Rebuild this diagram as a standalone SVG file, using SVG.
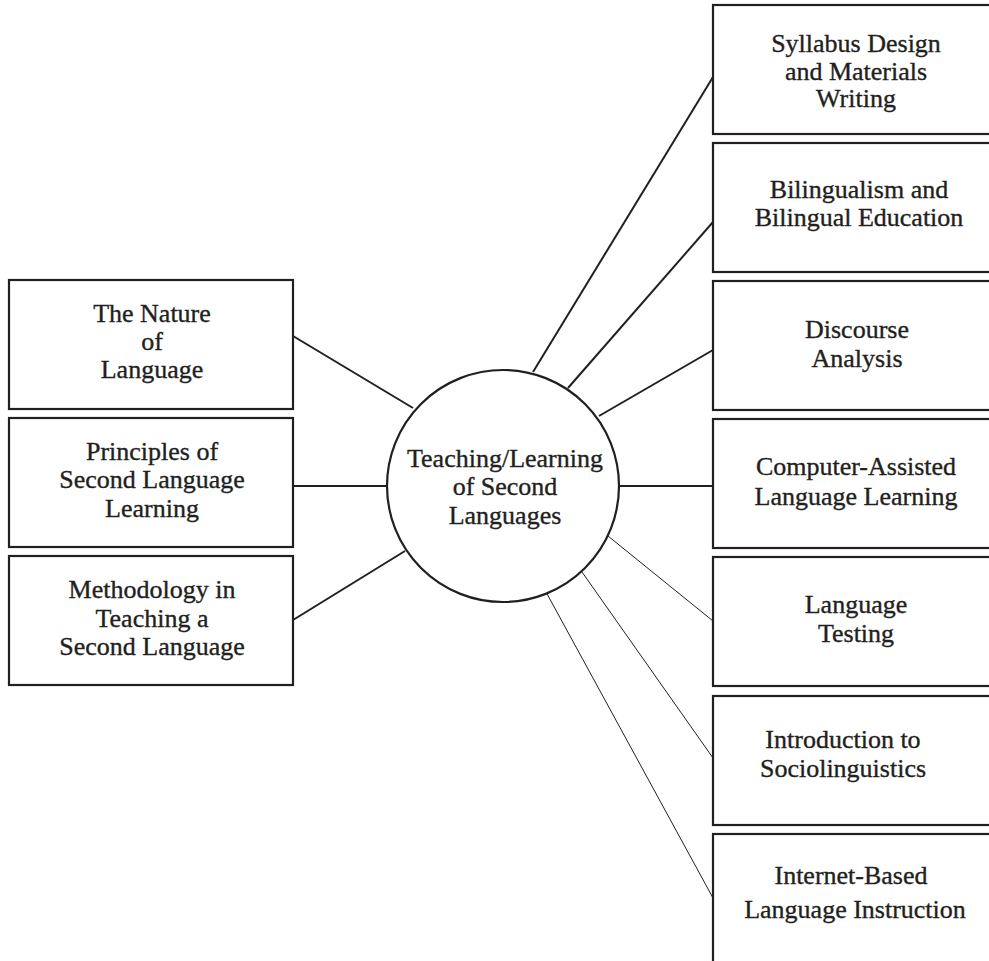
<svg xmlns="http://www.w3.org/2000/svg" width="989" height="961" viewBox="0 0 989 961">
<style>
.box{fill:#fff;stroke:#231f20;stroke-width:2.2}
.c{fill:#fff;stroke:#231f20;stroke-width:2.2}
.t{font-family:"Liberation Serif","Times New Roman",serif;font-size:26px;fill:#231f20;stroke:#231f20;stroke-width:0.35;text-anchor:middle}
.thick{stroke:#231f20;stroke-width:2;fill:none}
.thin{stroke:#231f20;stroke-width:1;fill:none}
</style>
<rect width="989" height="961" fill="#fff"/>
<g id="connectors">
<line class="thick" x1="293" y1="336" x2="413" y2="408"/>
<line class="thick" x1="293" y1="486" x2="387" y2="486"/>
<line class="thick" x1="293" y1="620" x2="405" y2="551"/>
<line class="thick" x1="713" y1="77" x2="533" y2="372"/>
<line class="thick" x1="713" y1="222" x2="568" y2="388"/>
<line class="thick" x1="713" y1="350" x2="599" y2="416"/>
<line class="thick" x1="619" y1="486" x2="713" y2="486"/>
<line class="thin" x1="608" y1="536" x2="713" y2="621"/>
<line class="thin" x1="582" y1="572" x2="713" y2="758"/>
<line class="thin" x1="546" y1="592" x2="713" y2="898"/>
</g>
<g id="center">
<circle class="c" cx="503" cy="486" r="116"/>
<text class="t" x="505" y="467">Teaching/Learning</text>
<text class="t" x="505" y="495">of Second</text>
<text class="t" x="505" y="524">Languages</text>
</g>
<g id="nature">
<rect class="box" x="9" y="280" width="284" height="129"/>
<text class="t" x="152" y="322">The Nature</text>
<text class="t" x="152" y="350">of</text>
<text class="t" x="152" y="378">Language</text>
</g>
<g id="principles">
<rect class="box" x="9" y="418" width="284" height="129"/>
<text class="t" x="152" y="460">Principles of</text>
<text class="t" x="152" y="488">Second Language</text>
<text class="t" x="152" y="517">Learning</text>
</g>
<g id="methodology">
<rect class="box" x="9" y="556" width="284" height="129"/>
<text class="t" x="152" y="598">Methodology in</text>
<text class="t" x="152" y="627">Teaching a</text>
<text class="t" x="152" y="655">Second Language</text>
</g>
<g id="syllabus">
<rect class="box" x="713" y="5" width="300" height="129"/>
<text class="t" x="856" y="52">Syllabus Design</text>
<text class="t" x="856" y="80">and Materials</text>
<text class="t" x="856" y="107">Writing</text>
</g>
<g id="bilingualism">
<rect class="box" x="713" y="143" width="300" height="129"/>
<text class="t" x="859" y="198">Bilingualism and</text>
<text class="t" x="859" y="226">Bilingual Education</text>
</g>
<g id="discourse">
<rect class="box" x="713" y="281" width="300" height="129"/>
<text class="t" x="857" y="338">Discourse</text>
<text class="t" x="857" y="367">Analysis</text>
</g>
<g id="call">
<rect class="box" x="713" y="419" width="300" height="129"/>
<text class="t" x="856" y="475">Computer-Assisted</text>
<text class="t" x="856" y="505">Language Learning</text>
</g>
<g id="testing">
<rect class="box" x="713" y="557" width="300" height="129"/>
<text class="t" x="856" y="613">Language</text>
<text class="t" x="856" y="642">Testing</text>
</g>
<g id="socio">
<rect class="box" x="713" y="696" width="300" height="129"/>
<text class="t" x="843" y="748">Introduction to</text>
<text class="t" x="843" y="777">Sociolinguistics</text>
</g>
<g id="internet">
<rect class="box" x="713" y="834" width="300" height="140"/>
<text class="t" x="851" y="884">Internet-Based</text>
<text class="t" x="855" y="918">Language Instruction</text>
</g>
</svg>
